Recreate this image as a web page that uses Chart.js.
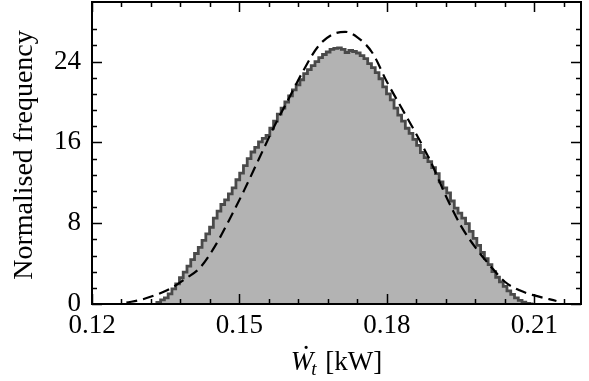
<!DOCTYPE html>
<html>
<head>
<meta charset="utf-8">
<script src="https://cdn.jsdelivr.net/npm/chart.js@4.4.1/dist/chart.umd.min.js"></script>
<style>
html,body{margin:0;padding:0;background:#fff;}
</style>
</head>
<body>
<canvas id="c" width="589" height="381"></canvas>
<script>
// ---- data ----
const histStart = 0.1332;      // left edge of first bin
const histBinWidth = 0.000766; // bin width
const histValues = [
 0.05,0.15,0.4,0.6,1.0,1.5,2.0,2.6,3.15,3.75,
 4.4,5.0,5.6,6.3,6.95,7.6,8.5,9.2,9.85,10.3,
 10.9,11.5,12.3,12.95,13.7,14.4,15.05,15.5,16.05,16.4,
 16.7,17.4,18.1,18.8,19.4,20.0,20.6,21.2,21.7,22.2,
 22.8,23.2,23.6,24.0,24.4,24.7,24.95,25.2,25.3,25.35,
 25.2,24.9,25.1,25.0,24.85,24.6,24.3,23.8,23.4,22.9,
 22.3,21.5,20.8,20.2,19.4,18.7,18.1,17.4,16.9,16.3,
 15.7,15.0,14.5,14.1,13.5,12.9,12.1,11.5,11.0,10.2,
 9.5,9.0,8.5,7.95,7.2,6.5,5.8,5.1,4.5,3.9,
 3.2,2.65,2.2,1.75,1.3,0.95,0.6,0.35,0.18,0.05
];
const fitX = [0.127,0.130,0.133,0.136,0.139,0.142,0.145,0.148,0.151,0.154,0.157,0.160,0.163,0.166,0.169,0.1715,0.174,0.177,0.180,0.183,0.186,0.189,0.192,0.195,0.198,0.201,0.204,0.207,0.210,0.2145];
const fitY = [0.13,0.42,0.9,1.55,2.5,3.6,5.7,8.4,11.3,14.4,17.5,20.3,23.1,25.5,26.7,26.95,26.4,24.9,22.0,19.4,16.8,14.0,10.7,7.8,5.6,3.8,2.2,1.35,0.85,0.3];
const xTickValues = [0.12,0.126,0.132,0.138,0.144,0.15,0.156,0.162,0.168,0.174,0.18,0.186,0.192,0.198,0.204,0.21,0.216];
const xTickLabels = [0.12,0.15,0.18,0.21];
const yTickValues = [0,1.6,3.2,4.8,6.4,8,9.6,11.2,12.8,14.4,16,17.6,19.2,20.8,22.4,24,25.6,27.2];
const yTickLabels = [0,8,16,24];
const xMin = 0.12, xMax = 0.2195, yMin = 0, yMax = 29.9;
const yTitle = 'Normalised frequency';

// ---- build library data ----
const histPoints = [{x: histStart, y: 0}];
histValues.forEach((v, i) => histPoints.push({x: histStart + i * histBinWidth, y: v}));
histPoints.push({x: histStart + histValues.length * histBinWidth, y: 0});
const fitPoints = fitX.map((x, i) => ({x: x, y: fitY[i]}));

const FONT = "'Liberation Serif','Times New Roman',serif";
const FS = 27;      // tick labels
const FT = 28;      // axis titles

function isLabel(list, v) { return list.some(l => Math.abs(l - v) < 1e-9); }

const frameAndTicks = {
  id: 'frameAndTicks',
  afterDatasetsDraw(chart) {
    const {ctx, chartArea: a, scales} = chart;
    ctx.save();
    ctx.strokeStyle = '#000';
    ctx.lineWidth = 1.5;
    ctx.beginPath();
    scales.x.ticks.forEach(t => {
      const px = Math.round(scales.x.getPixelForValue(t.value)) + 0.5;
      const len = isLabel(xTickLabels, t.value) ? 10 : 5;
      ctx.moveTo(px, a.bottom); ctx.lineTo(px, a.bottom - len);
      ctx.moveTo(px, a.top); ctx.lineTo(px, a.top + len);
    });
    scales.y.ticks.forEach(t => {
      const py = Math.round(scales.y.getPixelForValue(t.value)) + 0.5;
      const len = isLabel(yTickLabels, t.value) ? 10 : 5;
      ctx.moveTo(a.left, py); ctx.lineTo(a.left + len, py);
      ctx.moveTo(a.right, py); ctx.lineTo(a.right - len, py);
    });
    ctx.stroke();
    ctx.lineWidth = 2;
    ctx.strokeRect(a.left, a.top, a.right - a.left, a.bottom - a.top);

    ctx.fillStyle = '#000';
    // y title
    ctx.save();
    ctx.translate(25, (a.top + a.bottom) / 2 + 2);
    ctx.rotate(-Math.PI / 2);
    ctx.font = FT + 'px ' + FONT;
    ctx.textAlign = 'center';
    ctx.textBaseline = 'middle';
    ctx.fillText(yTitle, 0, 0);
    ctx.restore();
    // x title: W with dot above and subscript t, then [kW]
    const cx = (a.left + a.right) / 2;
    const base = 370;
    ctx.textBaseline = 'alphabetic';
    ctx.textAlign = 'left';
    const fW = 'italic ' + FS + 'px ' + FONT;
    const fT = 'italic ' + Math.round(FS * 0.72) + 'px ' + FONT;
    const fN = FS + 'px ' + FONT;
    ctx.font = fW; const wW = ctx.measureText('W').width;
    ctx.font = fT; const wT = ctx.measureText('t').width;
    ctx.font = fN; const wK = ctx.measureText(' [kW]').width;
    const x0 = cx - (wW + wT + wK) / 2;
    ctx.font = fW; ctx.fillText('W', x0, base);
    ctx.font = fN; ctx.textAlign = 'center';
    ctx.fillText('.', x0 + wW / 2 + 4, base - 21);
    ctx.textAlign = 'left';
    ctx.font = fT; ctx.fillText('t', x0 + wW - 2, base + 5);
    ctx.font = fN; ctx.fillText(' [kW]', x0 + wW + wT, base);
    ctx.restore();
  }
};

new Chart(document.getElementById('c'), {
  type: 'line',
  data: {
    datasets: [
      {
        label: 'fit',
        data: fitPoints,
        borderColor: '#000',
        borderWidth: 2.2,
        borderDash: [11, 6],
        pointRadius: 0,
        fill: false,
        cubicInterpolationMode: 'monotone',
        order: 0
      },
      {
        label: 'hist',
        data: histPoints,
        stepped: 'after',
        borderColor: '#4a4a4a',
        borderWidth: 2.8,
        backgroundColor: '#b3b3b3',
        pointRadius: 0,
        fill: 'origin',
        order: 1
      }
    ]
  },
  options: {
    responsive: false,
    animation: false,
    devicePixelRatio: 1,
    layout: {padding: {top: 2, right: 8, left: 0, bottom: 0}},
    plugins: {legend: {display: false}, tooltip: {enabled: false}},
    scales: {
      x: {
        type: 'linear', min: xMin, max: xMax,
        grid: {display: false, drawTicks: false},
        border: {display: false},
        afterBuildTicks: s => { s.ticks = xTickValues.map(v => ({value: v})); },
        afterFit: s => { s.height = 77; s.paddingLeft = 0; s.paddingRight = 0; },
        ticks: {
          autoSkip: false, maxRotation: 0, padding: 6,
          color: '#000', font: {family: FONT, size: FS},
          callback: v => isLabel(xTickLabels, v) ? String(+v.toFixed(2)) : ''
        }
      },
      y: {
        type: 'linear', min: yMin, max: yMax,
        grid: {display: false, drawTicks: false},
        border: {display: false},
        afterBuildTicks: s => { s.ticks = yTickValues.map(v => ({value: v})); },
        afterFit: s => { s.width = 92; s.paddingTop = 0; s.paddingBottom = 0; },
        ticks: {
          autoSkip: false, padding: 11,
          color: '#000', font: {family: FONT, size: FS},
          callback: v => isLabel(yTickLabels, v) ? String(v) : ''
        }
      }
    }
  },
  plugins: [frameAndTicks]
});
</script>
</body>
</html>
